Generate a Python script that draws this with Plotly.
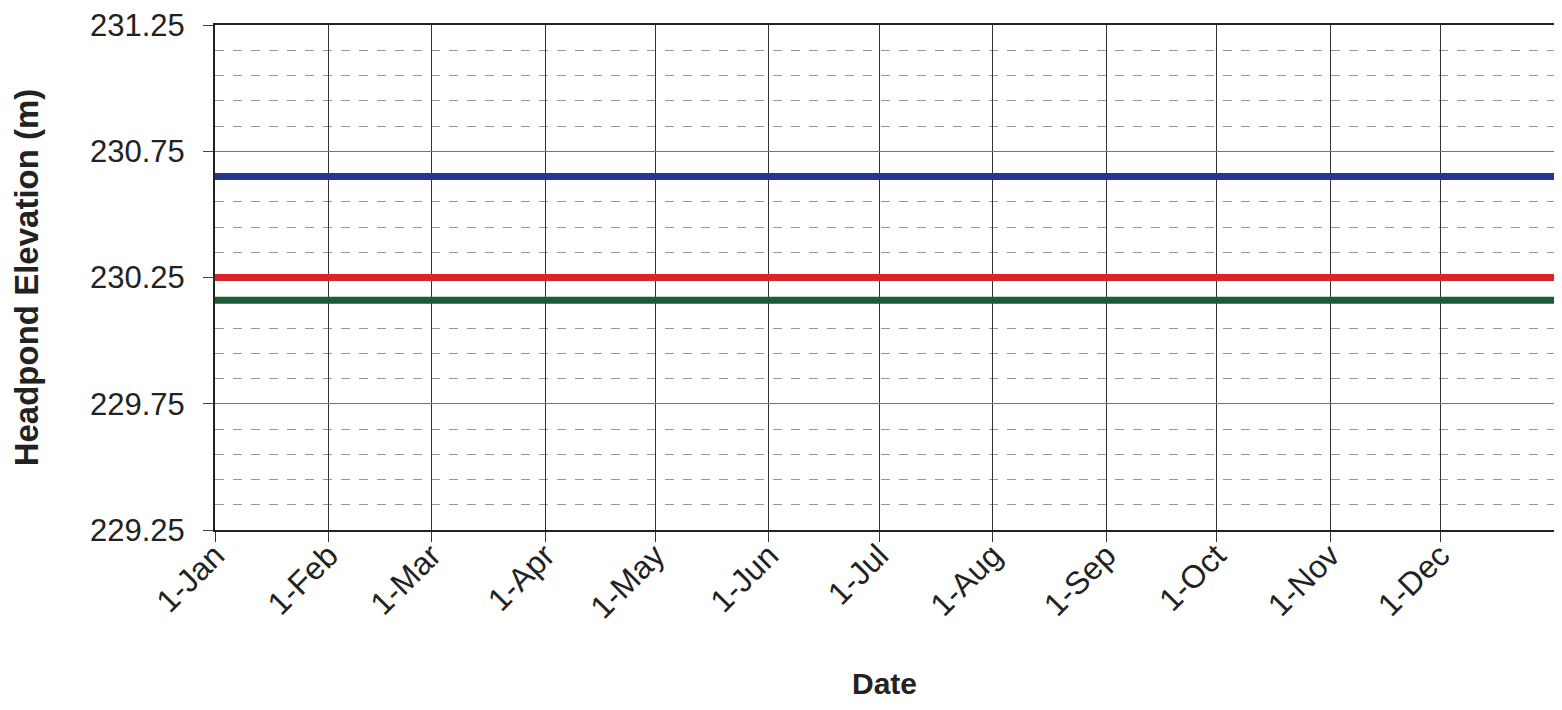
import plotly.graph_objects as go

# Data
dates = ["2001-01-01", "2001-04-01", "2001-07-01", "2001-10-01", "2002-01-01"]
blue_level = [230.65, 230.65, 230.65, 230.65, 230.65]
red_level = [230.25, 230.25, 230.25, 230.25, 230.25]
green_level = [230.16, 230.16, 230.16, 230.16, 230.16]

month_ticks = ["2001-01-01", "2001-02-01", "2001-03-01", "2001-04-01", "2001-05-01",
               "2001-06-01", "2001-07-01", "2001-08-01", "2001-09-01", "2001-10-01",
               "2001-11-01", "2001-12-01"]
month_labels = ["1-Jan", "1-Feb", "1-Mar", "1-Apr", "1-May", "1-Jun", "1-Jul",
                "1-Aug", "1-Sep", "1-Oct", "1-Nov", "1-Dec"]
y_ticks = [229.25, 229.75, 230.25, 230.75, 231.25]

fig = go.Figure()
for vals, col in [(blue_level, "#2a3590"), (red_level, "#d8262c"), (green_level, "#1e5b34")]:
    fig.add_trace(go.Scatter(x=dates, y=vals, mode="lines",
                             line=dict(color=col, width=7), showlegend=False))

font_family = "Liberation Sans, Arial, sans-serif"

fig.update_layout(
    width=1546, height=694,
    margin=dict(l=207, r=0, t=17, b=172, autoexpand=False),
    paper_bgcolor="white", plot_bgcolor="white",
    font=dict(family=font_family, color="#222"),
    showlegend=False,
)

fig.update_xaxes(
    range=["2001-01-01", "2002-01-01"],
    tickvals=month_ticks, ticktext=month_labels,
    tickangle=-45, tickfont=dict(size=32, color="#222"),
    ticks="outside", ticklen=10, tickcolor="#333",
    ticklabelstandoff=-18, ticklabeloverflow="allow",
    showgrid=True, gridcolor="#333", gridwidth=1,
    showline=True, linecolor="#222", linewidth=2, mirror=True,
    zeroline=False, automargin=False,
)

fig.add_annotation(text="<b>Date</b>", xref="paper", yref="paper", x=0.5, y=-0.303,
                   xanchor="center", yanchor="middle", showarrow=False,
                   font=dict(size=30, color="#222"))

fig.update_yaxes(
    range=[229.25, 231.25],
    tickvals=y_ticks, ticktext=[f"{v:.2f}" for v in y_ticks],
    tickfont=dict(size=31, color="#222"),
    ticks="outside", ticklen=10, tickcolor="#444",
    ticklabelstandoff=12, ticklabeloverflow="allow",
    showgrid=True, gridcolor="#777", gridwidth=1,
    minor=dict(dtick=0.1, tick0=229.25, showgrid=True, gridcolor="#999",
               griddash="dash", gridwidth=1),
    showline=True, linecolor="#222", linewidth=2, mirror=True,
    title=dict(text="<b>Headpond Elevation (m)</b>", font=dict(size=33, color="#222"),
               standoff=45),
    zeroline=False, automargin=False,
)

fig.write_html("out.html")
